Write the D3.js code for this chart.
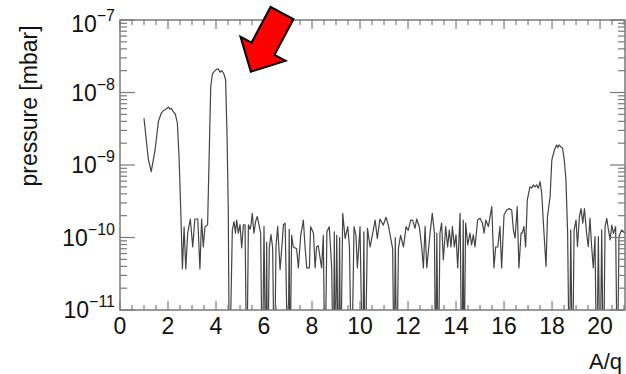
<!DOCTYPE html>
<html>
<head>
<meta charset="utf-8">
<script src="https://cdn.jsdelivr.net/npm/d3@7"></script>
<style>
  body { margin: 0; background: #fff; }
  text { font-family: "Liberation Sans", Arial, Helvetica, sans-serif; fill: #111; }
</style>
</head>
<body>
<div id="chart"></div>
<script>
// mass scan: A/q vs pressure (1e-12 = below the axis floor)
const aq = [
  1.00, 1.18, 1.30, 1.46, 1.60, 1.71, 1.80, 1.88, 1.95, 2.02, 2.08, 2.15, 2.22, 2.30, 2.39, 2.46,
  2.53, 2.60, 2.67, 2.74, 2.82, 2.93, 3.03, 3.12, 3.24, 3.33, 3.40, 3.47, 3.54, 3.65, 3.72, 3.78,
  3.85, 3.96, 4.03, 4.10, 4.17, 4.24, 4.33, 4.40, 4.46, 4.51, 4.56,
  4.68, 4.75, 4.81, 4.86, 4.93, 5.00, 5.07, 5.14, 5.21, 5.28, 5.35, 5.42, 5.46, 5.51, 5.58, 5.65,
  5.72, 5.79, 5.86, 5.93, 6.00, 6.07, 6.11, 6.15, 6.22, 6.29, 6.36, 6.43, 6.50, 6.57, 6.67, 6.74,
  6.81, 6.88, 7.00, 7.05, 7.08, 7.15, 7.22, 7.36, 7.43, 7.53, 7.64, 7.71, 7.78, 7.89, 7.94, 8.06,
  8.13, 8.19, 8.26, 8.40, 8.47, 8.54, 8.62, 8.72, 8.82, 8.89, 8.93, 8.96, 9.03, 9.10, 9.15, 9.19,
  9.28, 9.38, 9.49, 9.56, 9.65, 9.75, 9.83, 9.89, 10.00, 10.11, 10.16, 10.21, 10.31, 10.42, 10.53,
  10.63, 10.72, 10.83, 10.97, 11.08, 11.18, 11.28, 11.36, 11.42, 11.47, 11.53, 11.60, 11.69, 11.81,
  11.92, 12.01, 12.11, 12.19, 12.29, 12.36, 12.47, 12.57, 12.64,
  12.71, 12.78, 12.92, 13.01, 13.10, 13.15, 13.20, 13.26, 13.33, 13.40, 13.47, 13.57, 13.65, 13.72,
  13.79, 13.85, 13.93, 14.00, 14.07, 14.17, 14.24, 14.30, 14.33, 14.40, 14.49, 14.58, 14.65, 14.72,
  14.79, 14.90, 15.00, 15.10, 15.17, 15.24, 15.35, 15.49, 15.58, 15.65, 15.74, 15.83, 15.90, 16.00,
  16.11, 16.21, 16.32, 16.39, 16.46, 16.55, 16.62, 16.71, 16.76, 16.83, 16.90, 16.97,
  17.08, 17.15, 17.22, 17.29, 17.36, 17.43, 17.50, 17.57, 17.64, 17.75, 17.81, 17.92, 17.99, 18.10,
  18.19, 18.24, 18.29, 18.36, 18.44, 18.51, 18.58, 18.65, 18.72, 18.78, 18.85, 18.92, 19.00, 19.06,
  19.14, 19.21, 19.28, 19.35, 19.44, 19.51, 19.58, 19.65, 19.72, 19.79, 19.86, 19.93, 20.00, 20.07,
  20.14, 20.21, 20.28, 20.35, 20.42, 20.49, 20.56, 20.65, 20.72, 20.79, 20.90, 21.04
];
const pressure = [
  4.4e-9, 1.2e-9, 8.1e-10, 1.6e-9, 4.0e-9, 5.1e-9, 5.6e-9, 5.8e-9, 6.0e-9, 6.3e-9, 5.9e-9, 6.0e-9, 5.4e-9, 5.1e-9, 3.8e-9, 1.3e-9,
  2.5e-10, 3.7e-11, 1.4e-10, 3.7e-11, 1.15e-10, 1.8e-10, 7.4e-11, 1.8e-10, 1.8e-10, 3.7e-11, 1.8e-10, 7.4e-11, 1.4e-10, 1.5e-10, 1.6e-9, 1.2e-8,
  1.8e-8, 2.0e-8, 2.1e-8, 2.1e-8, 1.9e-8, 2.0e-8, 1.8e-8, 1.5e-8, 2.5e-9, 2.5e-10, 1e-12,
  1.27e-10, 1.66e-10, 1.15e-10, 1.74e-10, 1.15e-10, 1.5e-10, 7.2e-11, 1.5e-10, 1.5e-10, 1e-12, 1.5e-10, 1.3e-10, 1.5e-10, 2.15e-10, 1.15e-10, 1.66e-10,
  1.95e-10, 1.5e-10, 1.15e-10, 1e-12, 1.42e-10, 1e-12, 8.6e-11, 1e-12, 7.2e-11, 1.1e-10, 7.2e-11, 1e-12, 7.6e-11, 1.42e-10, 3.6e-11, 7.2e-11,
  1.5e-10, 1.58e-10, 1e-12, 1.3e-10, 1e-12, 1.07e-10, 7.4e-11, 7.0e-11, 3.8e-11, 1.07e-10, 1.74e-10, 7.4e-11, 3.8e-11, 3.8e-11, 1.41e-10, 1.15e-10,
  3.8e-11, 7.4e-11, 7.7e-11, 3.8e-11, 1.07e-10, 1e-12, 1.2e-10, 1.41e-10, 3.8e-11, 1e-12, 1.2e-10, 1e-12, 1.07e-10, 1e-12, 1.0e-10, 1e-12,
  2.15e-10, 9.7e-11, 1.41e-10, 7.4e-11, 1e-12, 1.41e-10, 1.07e-10, 3.8e-11, 1.41e-10, 1e-12, 1.2e-10, 1e-12, 1.34e-10, 7.4e-11, 1.15e-10,
  1.74e-10, 9.7e-11, 1.8e-10, 1.48e-10, 1.9e-10, 1.48e-10, 9.7e-11, 7.0e-11, 1e-12, 1.0e-10, 1e-12, 7.0e-11, 1.07e-10, 7.4e-11,
  1.41e-10, 1.25e-10, 1.74e-10, 1.74e-10, 1.34e-10, 1.8e-10, 1.41e-10, 7.4e-11, 3.8e-11,
  1.42e-10, 3.8e-11, 1.15e-10, 2.15e-10, 1.15e-10, 1e-12, 1.15e-10, 1e-12, 1.15e-10, 1.58e-10, 4.9e-11, 1.42e-10, 7.4e-11, 1.27e-10,
  7.4e-11, 1.42e-10, 7.4e-11, 1.09e-10, 3.8e-11, 2.15e-10, 1e-12, 1.74e-10, 1e-12, 1.58e-10, 7.9e-11, 1.15e-10, 7.9e-11, 1.09e-10,
  7.4e-11, 1.74e-10, 1.84e-10, 1.58e-10, 1.15e-10, 1.74e-10, 1.42e-10, 2.66e-10, 3.8e-11, 7.4e-11, 7.4e-11, 1.42e-10, 3.8e-11, 2.04e-10,
  2.4e-10, 2.5e-10, 2.4e-10, 1.27e-10, 9.8e-11, 2.66e-10, 3.8e-11, 1.15e-10, 1.15e-10, 1.42e-10, 7.4e-11, 3.3e-10,
  5.0e-10, 4.8e-10, 5.3e-10, 5.0e-10, 5.3e-10, 4.8e-10, 5.9e-10, 4.1e-10, 1.57e-10, 4.0e-11, 1.94e-10, 3.66e-10, 1.17e-9, 1.61e-9,
  1.89e-9, 1.75e-9, 1.89e-9, 1.79e-9, 1.70e-9, 1.17e-9, 6.2e-10, 1.14e-10, 1e-12, 1.27e-10, 1e-12, 1.27e-10, 1.74e-10, 7.5e-11,
  1.94e-10, 2.5e-10, 1.57e-10, 2.5e-10, 1.14e-10, 7.5e-11, 1.84e-10, 7.5e-11, 3.8e-11, 1.03e-10, 1e-12, 1.03e-10, 1e-12, 1.27e-10,
  1e-12, 1.41e-10, 1.84e-10, 1.27e-10, 9.3e-11, 1.48e-10, 1.14e-10, 1.41e-10, 1e-12, 1.03e-10, 1.27e-10, 1.14e-10
];

const xLabels = [0, 2, 4, 6, 8, 10, 12, 14, 16, 18, 20];
const decades = [1e-11, 1e-10, 1e-9, 1e-8, 1e-7];
const decadeExp = [-11, -10, -9, -8, -7];

// red arrow pointing at the A/q = 4 peak (tail, tip in data units)
const arrowTail = [6.75, 1.25e-7];
const arrowTip = [5.45, 1.94e-8];

var margin = { top: 20, right: 1, bottom: 64, left: 120 },
    W = 626, H = 374,
    width = W - margin.left - margin.right,
    height = H - margin.top - margin.bottom;

var svg = d3.select("#chart").append("svg")
    .attr("width", W).attr("height", H);

var x = d3.scaleLinear().domain([0, 21.04]).range([margin.left, margin.left + width]);
var y = d3.scaleLog().domain([1e-11, 1e-7]).range([margin.top + height, margin.top]);

var x0 = margin.left, x1 = margin.left + width, y0 = margin.top + height, y1 = margin.top;
var axisColor = "#7a7a7a";

svg.append("clipPath").attr("id", "plotclip")
  .append("rect").attr("x", x0).attr("y", y1).attr("width", width).attr("height", height);

// data line
var pts = aq.map((d, i) => [d, pressure[i]]);
var line = d3.line()
    .x(d => x(d[0]))
    .y(d => y(d[1]));
svg.append("path")
    .attr("d", line(pts))
    .attr("clip-path", "url(#plotclip)")
    .attr("fill", "none")
    .attr("stroke", "#444")
    .attr("stroke-width", 1.2)
    .attr("stroke-linejoin", "round");

// frame
svg.append("rect")
    .attr("x", x0).attr("y", y1).attr("width", width).attr("height", height)
    .attr("fill", "none").attr("stroke", axisColor).attr("stroke-width", 1.5);

// x ticks, inside, on top and bottom
var ticks = svg.append("g").attr("stroke", axisColor).attr("stroke-width", 1.2);
var xMinor = d3.range(0, 21.01, 0.5);
xMinor.forEach(v => {
  var len = (v % 2 === 0) ? 9 : 5;
  ticks.append("line").attr("x1", x(v)).attr("x2", x(v)).attr("y1", y0).attr("y2", y0 - len);
  ticks.append("line").attr("x1", x(v)).attr("x2", x(v)).attr("y1", y1).attr("y2", y1 + len);
});

// y ticks, inside, on left and right
decades.forEach((d, i) => {
  ticks.append("line").attr("x1", x0).attr("x2", x0 + 15).attr("y1", y(d)).attr("y2", y(d));
  ticks.append("line").attr("x1", x1).attr("x2", x1 - 15).attr("y1", y(d)).attr("y2", y(d));
  if (i < decades.length - 1) {
    for (var m = 2; m <= 9; m++) {
      var v = d * m;
      ticks.append("line").attr("x1", x0).attr("x2", x0 + 7).attr("y1", y(v)).attr("y2", y(v));
      ticks.append("line").attr("x1", x1).attr("x2", x1 - 7).attr("y1", y(v)).attr("y2", y(v));
    }
  }
});

// x tick labels
svg.append("g").selectAll("text")
    .data(xLabels)
    .enter().append("text")
    .attr("x", d => x(d))
    .attr("y", 334)
    .attr("text-anchor", "middle")
    .style("font-size", "23px")
    .text(d => d);

// y tick labels 10^n
var yl = svg.append("g").selectAll("text")
    .data(decades)
    .enter().append("text")
    .attr("x", 115)
    .attr("y", d => Math.max(32, y(d) + 8))
    .attr("text-anchor", "end")
    .style("font-size", "23px");
yl.append("tspan").text("10");
yl.append("tspan")
    .attr("dy", -11)
    .style("font-size", "16px")
    .text((d, i) => "\u2212" + Math.abs(decadeExp[i]));

// axis titles
svg.append("text")
    .attr("transform", "translate(37," + (margin.top + 86) + ") rotate(-90)")
    .attr("text-anchor", "middle")
    .style("font-size", "23px")
    .text("pressure [mbar]");
svg.append("text")
    .attr("x", 622).attr("y", 369)
    .attr("text-anchor", "end")
    .style("font-size", "22px")
    .text("A/q");

// arrow
var tx = x(arrowTail[0]), ty = y(arrowTail[1]),
    px = x(arrowTip[0]), py = y(arrowTip[1]);
var L = Math.hypot(px - tx, py - ty),
    ux = (px - tx) / L, uy = (py - ty) / L,
    nx = -uy, ny = ux;
var headLen = 26, sh = 13, hh = 25.5;
var bx = px - ux * headLen, by = py - uy * headLen;
var poly = [
  [tx + nx * sh, ty + ny * sh],
  [bx + nx * sh, by + ny * sh],
  [bx + nx * hh, by + ny * hh],
  [px, py],
  [bx - nx * hh, by - ny * hh],
  [bx - nx * sh, by - ny * sh],
  [tx - nx * sh, ty - ny * sh]
];
svg.append("polygon")
    .attr("points", poly.map(p => p.join(",")).join(" "))
    .attr("fill", "#ff0000")
    .attr("stroke", "#000")
    .attr("stroke-width", 2)
    .attr("stroke-linejoin", "miter");
</script>
</body>
</html>
